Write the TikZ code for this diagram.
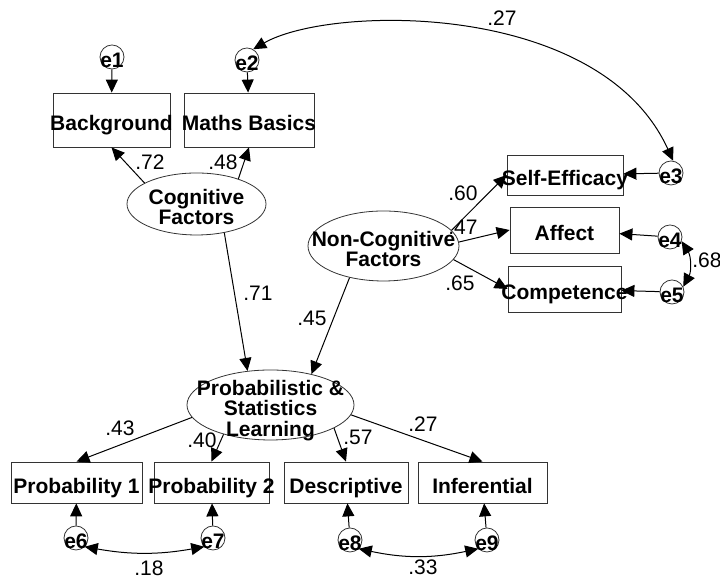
\documentclass[tikz,border=0pt]{standalone}
\usepackage{fontspec}
\setmainfont{Liberation Sans}
\usetikzlibrary{arrows.meta, shapes.geometric}

\newcommand{\cen}[1]{\raisebox{-5.6pt}[0pt][0pt]{\makebox[0pt]{\begin{tabular}{@{}c@{}}#1\end{tabular}}}}

\begin{document}
\begin{tikzpicture}[x=0.5pt, y=0.5pt,
  obs/.style={draw=black!80, rectangle, inner sep=0pt, minimum width=#1,
              minimum height=20.5pt, font=\fontsize{10.5}{8.75}\selectfont\bfseries},
  latent/.style={draw=black!80, ellipse, inner sep=0pt, minimum width=#1,
                 minimum height=35pt, font=\fontsize{10.5}{8.75}\selectfont\bfseries},
  err/.style={draw=black!80, circle, inner sep=0pt, minimum size=12pt,
              font=\fontsize{10.5}{8.75}\selectfont\bfseries},
  coef/.style={inner sep=0pt, font=\fontsize{10.5}{10}\selectfont},
  arr/.style={-{Triangle[length=6.5pt, width=6pt]}, line width=0.5pt},
  cov/.style={{Triangle[length=6.5pt, width=6pt]}-{Triangle[length=6.5pt, width=6pt]}, line width=0.5pt}
]
  \useasboundingbox (0,0) rectangle (720,577);

  %% Latent factors
  \node[latent=69.5pt, minimum height=31pt] (cog)  at (196.5,373) {\cen{Cognitive\\Factors}};
  \node[latent=75.5pt] (nc)   at (383.5,331) {\cen{Non-Cognitive\\Factors}};
  \node[latent=83.5pt] (prob) at (270.5,172) {\cen{Probabilistic \&\\Statistics\\Learning}};

  %% Observed variables
  \node[obs=58.5pt, minimum height=27pt] (bg) at (111.5,457) {\cen{Background}};
  \node[obs=65pt, minimum height=27pt]   (mb) at (249,457)   {\cen{Maths Basics}};
  \node[obs=58pt, minimum height=20pt]   (se) at (565,402)   {\cen{Self-Efficacy}};
  \node[obs=54.5pt, minimum height=23pt] (af) at (564.5,347) {\cen{Affect}};
  \node[obs=56.5pt, minimum height=23pt] (cp) at (564.5,288) {\cen{Competence}};
  \node[obs=65.5pt] (p1)  at (76.5,94.5)  {\cen{Probability 1}};
  \node[obs=57.5pt] (p2)  at (211.5,94.5) {\cen{Probability 2}};
  \node[obs=62pt]   (ds)  at (346,94.5)   {\cen{Descriptive}};
  \node[obs=64.5pt] (inf) at (482.5,94.5) {\cen{Inferential}};

  %% Error terms
  \node[err] (e1) at (112,520) {\cen{e1}};
  \node[err] (e2) at (247,517) {\cen{e2}};
  \node[err] (e3) at (671,404) {\cen{e3}};
  \node[err] (e4) at (670,340) {\cen{e4}};
  \node[err] (e5) at (672,285) {\cen{e5}};
  \node[err] (e6) at (76,39)   {\cen{e6}};
  \node[err] (e7) at (213,39)  {\cen{e7}};
  \node[err] (e8) at (350,37)  {\cen{e8}};
  \node[err] (e9) at (487,37)  {\cen{e9}};

  %% Loadings and paths
  \draw[arr] (cog.158) -- (bg.south);
  \draw[arr] (cog.31)  -- (mb.south);
  \draw[arr] (cog.-46) -- (prob.124);
  \draw[arr] (nc.-137) -- (prob.37);
  \draw[arr] (nc.13)   -- (se.west);
  \draw[arr] (nc.3)    -- (af.west);
  \draw[arr] (nc.-11)  -- (cp.west);
  \draw[arr] (prob.-171) -- (p1.north);
  \draw[arr] (prob.-148) -- (p2.north);
  \draw[arr] (prob.-20)  -- (ds.north);
  \draw[arr] (prob.-7)   -- (inf.north);

  %% Errors into indicators
  \draw[arr] (e1) -- (bg);
  \draw[arr] (e2) -- (mb);
  \draw[arr] (e3) -- (se);
  \draw[arr] (e4) -- (af);
  \draw[arr] (e5) -- (cp);
  \draw[arr] (e6) -- (p1);
  \draw[arr] (e7) -- (p2);
  \draw[arr] (e8) -- (ds);
  \draw[arr] (e9) -- (inf);

  %% Error covariances
  \draw[cov] (e2.60) .. controls (330,572) and (600,577) .. (e3.80);
  \draw[cov] (e4.-20) to[bend left=30] (e5.25);
  \draw[cov] (e6.-45) to[bend right=10] (e7.-135);
  \draw[cov] (e8.-45) to[bend right=12] (e9.-135);

  %% Coefficients
  \node[coef] (c72)  at (150,415) {.72};
  \node[coef] (c48)  at (223,415) {.48};
  \node[coef] (c71)  at (258,284) {.71};
  \node[coef] (c45)  at (312,259) {.45};
  \node[coef] (c60)  at (463,384) {.60};
  \node[coef] (c47)  at (463,350) {.47};
  \node[coef] (c65)  at (460,294) {.65};
  \node[coef] (c27a) at (502,559) {.27};
  \node[coef] (c68)  at (707,317) {.68};
  \node[coef] (c43)  at (120,149) {.43};
  \node[coef] (c40)  at (202,137) {.40};
  \node[coef] (c57)  at (358,140) {.57};
  \node[coef] (c27b) at (423,153) {.27};
  \node[coef] (c18)  at (149,9)   {.18};
  \node[coef] (c33)  at (423,10)  {.33};
\end{tikzpicture}
\end{document}
